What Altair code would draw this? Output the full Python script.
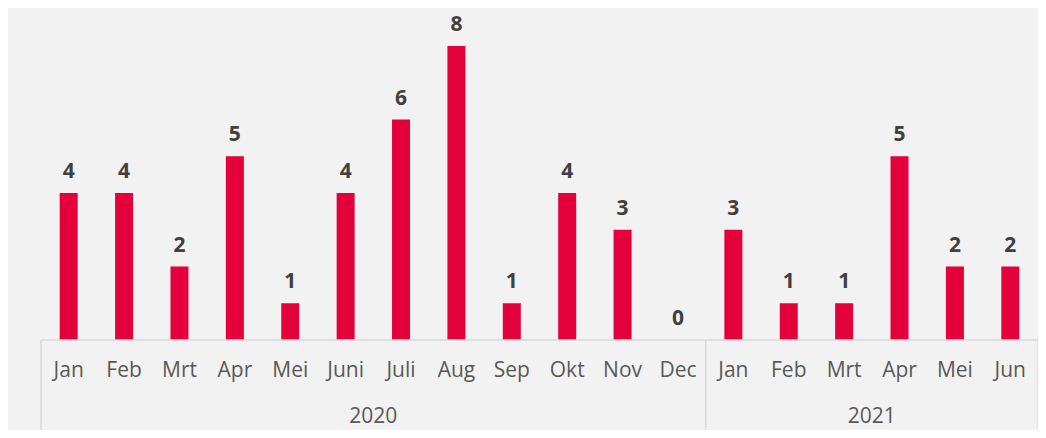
import altair as alt
import pandas as pd

months = ["Jan", "Feb", "Mrt", "Apr", "Mei", "Juni", "Juli", "Aug", "Sep", "Okt", "Nov", "Dec",
          "Jan", "Feb", "Mrt", "Apr", "Mei", "Jun"]
years = ["2020"] * 12 + ["2021"] * 6
values = [4, 4, 2, 5, 1, 4, 6, 8, 1, 4, 3, 0, 3, 1, 1, 5, 2, 2]

year_labels = ["2020", "2021"]
year_centers = [6, 15]
separators = [0, 12, 18]

df = pd.DataFrame({"idx": list(range(len(months))), "month": months, "year": years, "value": values})
ydf = pd.DataFrame({"year": year_labels, "pos": year_centers})
sdf = pd.DataFrame({"pos": separators})

W, H = 997, 332
FONT = "Open Sans"
RED = "#E4003B"

xo = alt.X("idx:O", axis=None, scale=alt.Scale(paddingInner=0, paddingOuter=0))
yq = alt.Y("value:Q", axis=None, scale=alt.Scale(domain=[0, 332 / 36.75], nice=False, zero=True))

base = alt.Chart(df)
bars = base.mark_bar(size=18, color=RED).encode(x=xo, y=yq)
labels = base.mark_text(font=FONT, fontSize=21, fontWeight="bold", color="#404040",
                        baseline="alphabetic", dy=-15).encode(x=xo, y=yq, text="value:Q")
month_text = base.mark_text(font=FONT, fontSize=21, color="#595959", baseline="middle").encode(
    x=xo, y=alt.value(363), text="month:N")

xq = alt.X("pos:Q", axis=None, scale=alt.Scale(domain=[0, 18], nice=False, zero=False))
year_text = alt.Chart(ydf).mark_text(font=FONT, fontSize=21, color="#595959", baseline="middle").encode(
    x=xq, y=alt.value(409), text="year:N")
sep = alt.Chart(sdf).mark_rule(color="#D9D9D9", strokeWidth=1.5).encode(
    x=xq, y=alt.value(H), y2=alt.value(422))
axis_line = alt.Chart(pd.DataFrame({"a": [0], "b": [18]})).mark_rule(color="#D9D9D9", strokeWidth=1.5).encode(
    x=alt.X("a:Q", axis=None, scale=alt.Scale(domain=[0, 18], nice=False, zero=False)),
    x2="b:Q", y=alt.value(H))

left = alt.layer(bars, labels, month_text)
right = alt.layer(axis_line, sep, year_text)

chart = alt.layer(left, right).resolve_scale(x="independent").properties(
    width=W, height=H,
    padding={"left": 33, "top": 0, "right": 0, "bottom": 90},
    autosize=alt.AutoSizeParams(type="none"),
    background="#F2F2F2",
).configure_view(stroke=None)

chart.save("out.html", embed_options={"renderer": "svg", "actions": False})
